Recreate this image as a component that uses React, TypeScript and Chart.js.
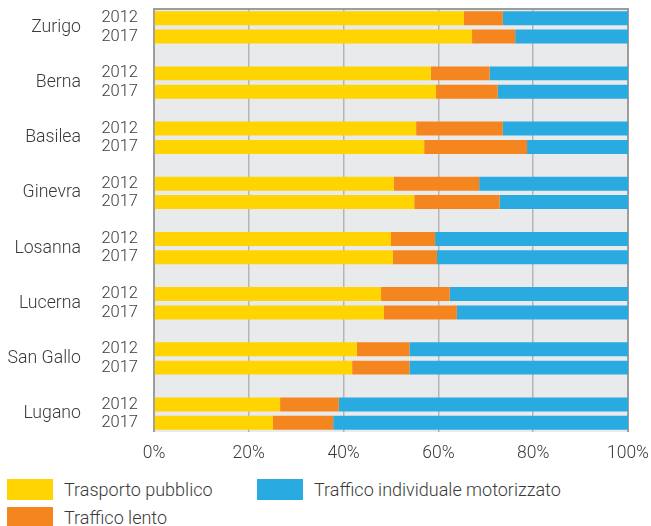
import React, { useEffect, useRef } from "react";
import { Chart, registerables } from "chart.js";

Chart.register(...registerables);

const cities = ["Zurigo", "Berna", "Basilea", "Ginevra", "Losanna", "Lucerna", "San Gallo", "Lugano"];
const years = ["2012", "2017"];
const xTicks = [0, 20, 40, 60, 80, 100];

// shares in %
const public2012 = [65.4, 58.4, 55.3, 50.6, 50.0, 47.9, 42.8, 26.6];
const public2017 = [67.1, 59.5, 57.0, 54.9, 50.4, 48.5, 41.8, 25.1];
const slow2012 = [8.2, 12.4, 18.3, 18.0, 9.3, 14.5, 11.1, 12.4];
const slow2017 = [9.1, 13.0, 21.7, 18.0, 9.3, 15.4, 12.1, 12.7];
const motor2012 = [26.4, 29.2, 26.4, 31.4, 40.7, 37.6, 46.1, 61.0];
const motor2017 = [23.8, 27.5, 21.3, 27.1, 40.3, 36.1, 46.1, 62.2];

const seriesNames = ["Trasporto pubblico", "Traffico lento", "Traffico individuale motorizzato"];
const colors = ["#FFD400", "#F5861F", "#29AAE1"];

const FONT = "Roboto, 'Noto Sans', sans-serif";
const TEXT = "#3a3a3a";

function buildRows(a: number[], b: number[]) {
  const out: (number | null)[] = [];
  cities.forEach((_, i) => {
    out.push(a[i], b[i]);
    if (i < cities.length - 1) out.push(null);
  });
  return out;
}

const labels: string[] = [];
cities.forEach((_, i) => {
  labels.push(years[0], years[1]);
  if (i < cities.length - 1) labels.push("");
});

export default function App() {
  const ref = useRef<HTMLCanvasElement | null>(null);

  useEffect(() => {
    if (!ref.current) return;
    const bgPlugin = {
      id: "bgFrame",
      beforeDraw(chart: any) {
        const { ctx, chartArea: a } = chart;
        ctx.save();
        ctx.fillStyle = "#e9eaec";
        ctx.fillRect(a.left, a.top, a.right - a.left, a.bottom - a.top);
        ctx.restore();
      },
      beforeDatasetsDraw(chart: any) {
        const { ctx, chartArea: a } = chart;
        ctx.save();
        ctx.strokeStyle = "#9d9d9d";
        ctx.lineWidth = 2;
        ctx.beginPath();
        ctx.moveTo(a.left, a.bottom);
        ctx.lineTo(a.left, a.top);
        ctx.lineTo(a.right, a.top);
        ctx.lineTo(a.right, a.bottom);
        ctx.stroke();
        ctx.restore();
      },
      afterDraw(chart: any) {
        const { ctx } = chart;
        const y = chart.scales.y;
        ctx.save();
        ctx.font = `300 17.7px ${FONT}`;
        ctx.fillStyle = TEXT;
        ctx.textAlign = "right";
        ctx.textBaseline = "middle";
        cities.forEach((c, i) => {
          const yy = (y.getPixelForValue(i * 3) + y.getPixelForValue(i * 3 + 1)) / 2;
          ctx.fillText(c, 81, yy);
        });
        ctx.restore();
      },
    };

    const data = {
      labels,
      datasets: [
        { label: seriesNames[0], data: buildRows(public2012, public2017), backgroundColor: colors[0] },
        { label: seriesNames[1], data: buildRows(slow2012, slow2017), backgroundColor: colors[1] },
        { label: seriesNames[2], data: buildRows(motor2012, motor2017), backgroundColor: colors[2] },
      ].map((d) => ({ ...d, barPercentage: 0.76, categoryPercentage: 1, borderWidth: 0 })),
    };

    const chart = new Chart(ref.current, {
      type: "bar",
      data: data as any,
      plugins: [bgPlugin],
      options: {
        indexAxis: "y",
        animation: false,
        responsive: false,
        maintainAspectRatio: false,
        layout: { padding: { top: 9, right: 23, left: 0, bottom: 0 } },
        plugins: { legend: { display: false }, tooltip: { enabled: false } },
        scales: {
          x: {
            stacked: true,
            min: 0,
            max: 100,
            afterBuildTicks: (s: any) => {
              s.ticks = xTicks.map((v) => ({ value: v }));
            },
            afterFit: (s: any) => {
              s.height = 38;
              s.paddingRight = 0;
              s.paddingLeft = 0;
            },
            ticks: {
              callback: (v: any) => `${v}%`,
              font: { family: FONT, size: 17.5, weight: "300" },
              color: TEXT,
              padding: 11,
              maxRotation: 0,
            },
            grid: { color: "#b5b5b5", lineWidth: 1.5, drawTicks: false },
            border: { display: false },
          },
          y: {
            stacked: true,
            afterFit: (s: any) => {
              s.width = 154;
              s.paddingTop = 0;
              s.paddingBottom = 0;
            },
            ticks: {
              autoSkip: false,
              font: { family: FONT, size: 16.5, weight: "300" },
              color: TEXT,
              padding: 16,
            },
            grid: { display: false, drawTicks: false },
            border: { display: false },
          },
        },
      } as any,
    });
    return () => chart.destroy();
  }, []);

  const legendItems = [
    { name: seriesNames[0], color: colors[0], left: 7, top: 479, h: 21, textLeft: 64 },
    { name: seriesNames[2], color: colors[2], left: 257, top: 479, h: 21, textLeft: 314 },
    { name: seriesNames[1], color: colors[1], left: 7, top: 507, h: 19, textLeft: 64 },
  ];

  return (
    <div style={{ position: "absolute", left: 0, top: 0, width: 651, height: 526, overflow: "hidden", background: "#fff" }}>
      <canvas ref={ref} width={651} height={470} style={{ display: "block" }} />
      {legendItems.map((it) => (
        <React.Fragment key={it.name}>
          <div style={{ position: "absolute", left: it.left, top: it.top, width: 46, height: it.h, background: it.color }} />
          <div
            style={{
              position: "absolute",
              left: it.textLeft,
              top: it.top + 10.5 - 12,
              height: 24,
              lineHeight: "24px",
              fontFamily: FONT,
              fontWeight: 300,
              fontSize: 18,
              color: TEXT,
              whiteSpace: "nowrap",
            }}
          >
            {it.name}
          </div>
        </React.Fragment>
      ))}
    </div>
  );
}
